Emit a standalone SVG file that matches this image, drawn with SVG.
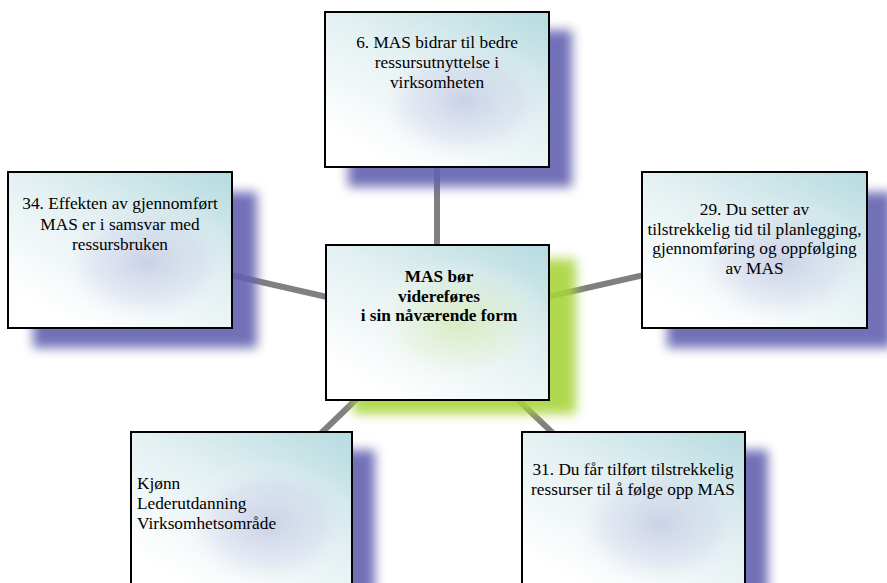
<svg xmlns="http://www.w3.org/2000/svg" width="887" height="583" viewBox="0 0 887 583">
<defs>
<style>
.box{stroke:#000;stroke-width:2}
.shb{fill:#6462b0;opacity:0.9}
.shg{fill:#a8d43e;opacity:0.9}
.t{font-size:17.3px;fill:#000}
.c{text-anchor:middle}
.b{font-weight:bold}
.conn{stroke:#808080;stroke-width:6;fill:none}
</style>
<filter id="blur" x="-20%" y="-20%" width="140%" height="140%"><feGaussianBlur stdDeviation="5.5"/></filter>
<linearGradient id="teal" x1="1" y1="0" x2="0.25" y2="0.95">
<stop offset="0" stop-color="#b5dbdf"/>
<stop offset="0.5" stop-color="#e3f0f2"/>
<stop offset="1" stop-color="#ffffff"/>
</linearGradient>
<radialGradient id="lav" cx="0.62" cy="0.58" r="0.42" fx="0.62" fy="0.58">
<stop offset="0" stop-color="#c2c7e3" stop-opacity="0.75"/>
<stop offset="0.6" stop-color="#cfd3ea" stop-opacity="0.35"/>
<stop offset="1" stop-color="#ffffff" stop-opacity="0"/>
</radialGradient>
<radialGradient id="grn" cx="0.6" cy="0.5" r="0.42" fx="0.6" fy="0.5">
<stop offset="0" stop-color="#d5eab5" stop-opacity="0.8"/>
<stop offset="0.6" stop-color="#e2f0cc" stop-opacity="0.35"/>
<stop offset="1" stop-color="#ffffff" stop-opacity="0"/>
</radialGradient>
</defs>
<rect width="887" height="583" fill="#fff"/>
<g id="connectors">
<line class="conn" x1="437" y1="322" x2="437" y2="90"/>
<line class="conn" x1="437" y1="322" x2="120" y2="250"/>
<line class="conn" x1="437" y1="322" x2="754" y2="250"/>
<line class="conn" x1="437" y1="322" x2="241" y2="510"/>
<line class="conn" x1="437" y1="322" x2="633" y2="510"/>
</g>
<g font-family="'Liberation Serif', 'Times New Roman', serif">
<g id="node-center">
<rect class="shg" x="353" y="259" width="223" height="155" filter="url(#blur)"/>
<rect class="box" x="326" y="245" width="223" height="155" fill="url(#teal)"/>
<rect x="327" y="246" width="221" height="153" fill="url(#grn)"/>
<text class="t c b" x="439" y="282">MAS bør</text>
<text class="t c b" x="439" y="302">videreføres</text>
<text class="t c b" x="439" y="321">i sin nåværende form</text>
</g>
<g id="node-6">
<rect class="shb" x="348" y="30" width="224" height="157" filter="url(#blur)"/>
<rect class="box" x="325" y="12" width="224" height="155" fill="url(#teal)"/>
<rect x="326" y="13" width="222" height="153" fill="url(#lav)"/>
<text class="t c" x="437" y="48">6. MAS bidrar til bedre</text>
<text class="t c" x="437" y="68">ressursutnyttelse i</text>
<text class="t c" x="437" y="88">virksomheten</text>
</g>
<g id="node-34">
<rect class="shb" x="33" y="192" width="224" height="156" filter="url(#blur)"/>
<rect class="box" x="8" y="172" width="224" height="156" fill="url(#teal)"/>
<rect x="9" y="173" width="222" height="154" fill="url(#lav)"/>
<text class="t c" x="120" y="209">34. Effekten av gjennomført</text>
<text class="t c" x="120" y="230">MAS er i samsvar med</text>
<text class="t c" x="120" y="250">ressursbruken</text>
</g>
<g id="node-29">
<rect class="shb" x="667" y="192" width="225" height="156" filter="url(#blur)"/>
<rect class="box" x="642" y="172" width="225" height="156" fill="url(#teal)"/>
<rect x="643" y="173" width="223" height="154" fill="url(#lav)"/>
<text class="t c" x="754.5" y="215">29. Du setter av</text>
<text class="t c" x="754.5" y="235">tilstrekkelig tid til planlegging,</text>
<text class="t c" x="754.5" y="254">gjennomføring og oppfølging</text>
<text class="t c" x="754.5" y="274">av MAS</text>
</g>
<g id="node-bakgrunn">
<rect class="shb" x="154" y="450" width="221" height="156" filter="url(#blur)"/>
<rect class="box" x="131" y="432" width="221" height="160" fill="url(#teal)"/>
<rect x="132" y="433" width="219" height="158" fill="url(#lav)"/>
<text class="t" x="137" y="489">Kjønn</text>
<text class="t" x="137" y="509">Lederutdanning</text>
<text class="t" x="137" y="529">Virksomhetsområde</text>
</g>
<g id="node-31">
<rect class="shb" x="545" y="450" width="223" height="156" filter="url(#blur)"/>
<rect class="box" x="522" y="432" width="223" height="160" fill="url(#teal)"/>
<rect x="523" y="433" width="221" height="158" fill="url(#lav)"/>
<text class="t c" x="633" y="475">31. Du får tilført tilstrekkelig</text>
<text class="t c" x="633" y="495">ressurser til å følge opp MAS</text>
</g>
</g>
</svg>
